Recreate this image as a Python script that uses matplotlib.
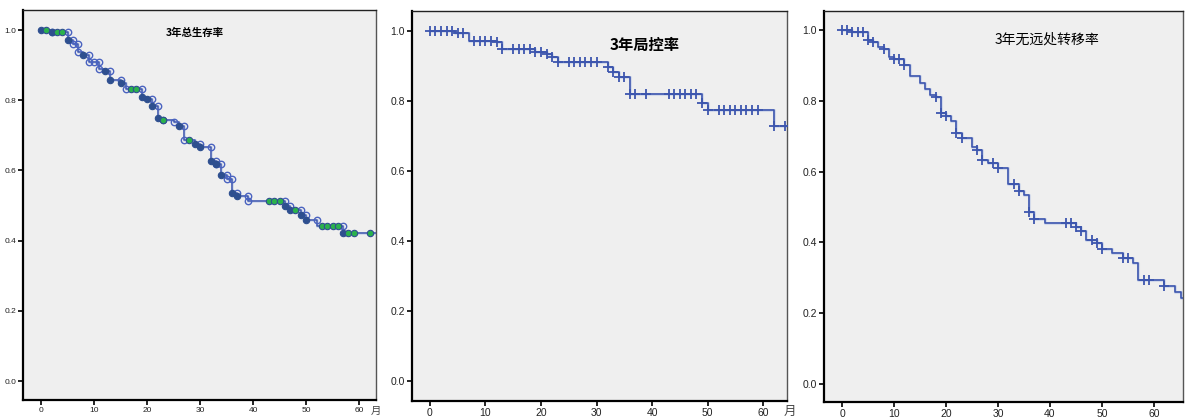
import numpy as np
import matplotlib.pyplot as plt

# 3年总生存率 (steps: month, survival after drop)
os_t = [0, 2, 5, 6, 7, 8, 9, 11, 12, 13, 15, 16, 19, 20, 21, 22, 23, 25, 26, 27,
        29, 30, 32, 33, 34, 35, 36, 37, 39, 46, 47, 49, 50, 52, 57]
os_s = [1.0, 0.993, 0.973, 0.959, 0.938, 0.930, 0.909, 0.888, 0.884, 0.859, 0.848,
        0.831, 0.810, 0.803, 0.783, 0.750, 0.745, 0.738, 0.728, 0.688,
        0.676, 0.667, 0.627, 0.619, 0.588, 0.576, 0.535, 0.526, 0.512, 0.500,
        0.488, 0.473, 0.459, 0.441, 0.422]
os_open_top = [5, 6, 7, 9, 11, 13, 15, 19, 21, 22, 27, 30, 32, 33, 34, 35, 36, 37,
               39, 46, 47, 49, 50, 52, 57]
os_open = [2, 6, 7, 9, 10, 11, 16, 25, 27, 33, 35, 39]
os_filled = [0, 2, 5, 8, 12, 13, 15, 19, 20, 21, 22, 23, 26, 29, 30, 32, 33, 34, 36,
             37, 46, 47, 49, 50, 57]
os_green = [1, 3, 4, 17, 18, 23, 28, 43, 44, 45, 48, 53, 54, 55, 56, 58, 59, 62]

# 3年局控率
lc_t = [0, 4.5, 7, 12, 13, 19, 21, 22, 23, 32, 33, 34, 36, 49, 50, 62]
lc_s = [1.0, 0.993, 0.972, 0.968, 0.949, 0.941, 0.933, 0.925, 0.911, 0.898, 0.884,
        0.868, 0.820, 0.795, 0.773, 0.729]
lc_cens = [0, 1, 2, 3, 4, 5, 6, 8, 9, 10, 11, 12, 13, 15, 16, 17, 18, 19, 20, 21, 22,
           23, 25, 26, 27, 28, 29, 30, 32, 33, 34, 35, 36, 37, 39, 43, 44, 45, 46,
           47, 48, 49, 50, 52, 53, 54, 55, 56, 57, 58, 59, 62, 64]

# 3年无远处转移率
dm_t = [0, 2, 5, 6, 7, 8, 9, 10, 12, 13, 15, 16, 17, 18, 19, 20, 21, 22, 23, 25, 26,
        27, 28, 30, 32, 34, 35, 36, 37, 39, 45, 46, 47, 49, 50, 52, 54, 56, 57, 62,
        64, 65.2]
dm_s = [1.0, 0.995, 0.973, 0.967, 0.951, 0.946, 0.924, 0.919, 0.900, 0.871, 0.850,
        0.833, 0.817, 0.810, 0.767, 0.757, 0.743, 0.710, 0.694, 0.669, 0.662,
        0.633, 0.624, 0.610, 0.564, 0.545, 0.535, 0.486, 0.467, 0.455, 0.443,
        0.432, 0.408, 0.397, 0.382, 0.369, 0.355, 0.341, 0.295, 0.278, 0.259, 0.243]
dm_cens = [0, 1, 2, 3, 4, 5, 6, 8, 10, 11, 12, 18, 19, 20, 22, 23, 26, 27, 29, 30,
           33, 34, 36, 37, 43, 44, 45, 46, 48, 49, 50, 54, 55, 58, 59, 62]

xticks = [0, 10, 20, 30, 40, 50, 60]
yticks = [0.0, 0.2, 0.4, 0.6, 0.8, 1.0]

plt.rcParams['font.family'] = ['Liberation Sans', 'Noto Sans CJK SC']

LINE = '#3D56AE'
BG = '#EFEFEF'


def surv_at(times, surv, t, pre=False):
    side = 'left' if pre else 'right'
    i = np.searchsorted(times, t, side=side) - 1
    return surv[max(i, 0)]


def setup(ax, xlim, ylim, fs):
    ax.set_facecolor(BG)
    ax.set_xlim(*xlim)
    ax.set_ylim(*ylim)
    ax.set_xticks(xticks)
    ax.set_yticks(yticks)
    ax.set_yticklabels([f'{v:.1f}' for v in yticks])
    ax.tick_params(direction='out', length=3.5, width=1.2, labelsize=fs,
                   colors='black', labelcolor='#222222', top=False, right=False)
    ax.tick_params(axis='x', pad=1.5)
    ax.tick_params(axis='y', pad=1.5)
    for s in ['left', 'bottom']:
        ax.spines[s].set_linewidth(1.6)
        ax.spines[s].set_color('black')
    ax.spines['top'].set_linewidth(1.0)
    ax.spines['top'].set_color('#222222')
    ax.spines['right'].set_linewidth(1.0)
    ax.spines['right'].set_color('#555555')


def step_line(ax, times, surv, xmax, lw):
    xs = list(times) + [xmax]
    ys = list(surv) + [surv[-1]]
    ax.step(xs, ys, where='post', color='#AFC0E6', lw=lw + 1.0, alpha=0.45, zorder=2)
    ax.step(xs, ys, where='post', color=LINE, lw=lw, zorder=3)


fig = plt.figure(figsize=(11.92, 4.19), dpi=100)

# panel 1
ax1 = fig.add_axes([0.0193, 0.0453, 0.2961, 0.9308])
xl1 = (-3.4, 63.2)
setup(ax1, xl1, (-0.054, 1.057), 6)
step_line(ax1, os_t, os_s, xl1[1], 1.1)
ax1.plot(os_open_top, [surv_at(os_t, os_s, t, pre=True) for t in os_open_top], 'o',
         ms=4.6, mfc='none', mec='#4A63C0', mew=1.0, zorder=4)
ax1.plot(os_open, [surv_at(os_t, os_s, t) for t in os_open], 'o',
         ms=4.6, mfc='none', mec='#4A63C0', mew=1.0, zorder=4)
ax1.plot(os_filled, [surv_at(os_t, os_s, t) for t in os_filled], 'o',
         ms=4.6, mfc='#2E4F8F', mec='#2E4F8F', mew=0.8, zorder=5)
ax1.plot(os_green, [surv_at(os_t, os_s, t) for t in os_green], 'o',
         ms=4.6, mfc='#2BB24C', mec='#2E4F8F', mew=0.8, zorder=6)
ax1.text(0.487, 0.941, '3年总生存率', transform=ax1.transAxes, ha='center', va='center',
         fontsize=7.5, fontweight='bold', family=['Noto Sans CJK SC'])
ax1.text(1.0, -0.028, '月', transform=ax1.transAxes, ha='center', va='center',
         fontsize=7.5, color='#444444', family=['Noto Sans CJK SC'])

# panel 2
ax2 = fig.add_axes([0.3456, 0.0430, 0.3146, 0.9308])
xl2 = (-3.24, 64.3)
setup(ax2, xl2, (-0.057, 1.057), 7.5)
step_line(ax2, lc_t, lc_s, xl2[1], 1.2)
ax2.plot(lc_cens, [surv_at(lc_t, lc_s, t) for t in lc_cens], '+',
         ms=6.5, mew=1.3, color=LINE, zorder=4)
ax2.text(0.62, 0.913, '3年局控率', transform=ax2.transAxes, ha='center', va='center',
         fontsize=11, fontweight='bold', family=['Noto Sans CJK SC'])
ax2.text(1.008, -0.026, '月', transform=ax2.transAxes, ha='center', va='center',
         fontsize=9, color='#444444', family=['Noto Sans CJK SC'])

# panel 3
ax3 = fig.add_axes([0.6913, 0.0406, 0.3012, 0.9332])
xl3 = (-3.46, 65.6)
setup(ax3, xl3, (-0.051, 1.054), 7.5)
step_line(ax3, dm_t, dm_s, xl3[1], 1.2)
ax3.plot(dm_cens, [surv_at(dm_t, dm_s, t) for t in dm_cens], '+',
         ms=6.5, mew=1.3, color=LINE, zorder=4)
ax3.text(0.621, 0.926, '3年无远处转移率', transform=ax3.transAxes, ha='center',
         va='center', fontsize=10, family=['Noto Sans CJK SC'])

fig.savefig('out.png', dpi=100)
